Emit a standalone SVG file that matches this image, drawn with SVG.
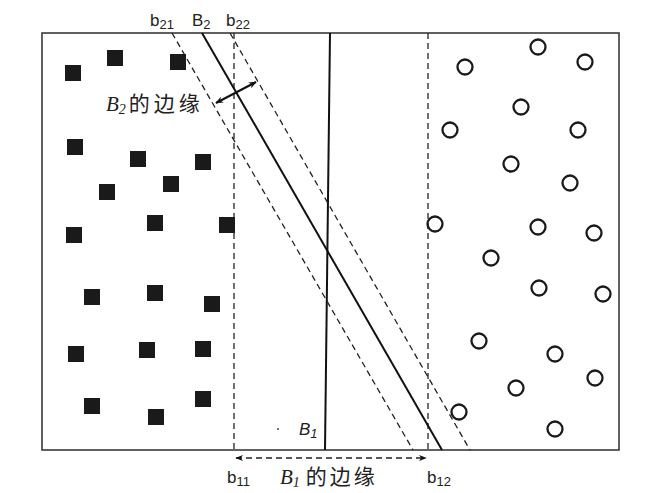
<svg xmlns="http://www.w3.org/2000/svg" width="658" height="493" viewBox="0 0 658 493">
<defs>
<style>
.frame{fill:none;stroke:#3a3a3a;stroke-width:1.6}
.solid{stroke:#111;stroke-width:2;fill:none}
.dash{stroke:#222;stroke-width:1.3;stroke-dasharray:6 4;fill:none}
.sq{fill:#1a1a1a}
.ci{fill:none;stroke:#1a1a1a;stroke-width:2.3}
.lab{font-family:"Liberation Sans",Arial,sans-serif;font-size:17px;fill:#222}
.sub{font-size:13px}
.cn{font-family:"Noto Sans CJK SC",sans-serif;fill:#222}
.it{font-family:"Liberation Serif",serif;font-style:italic}
</style>
<marker id="ah" viewBox="0 0 10 10" refX="9" refY="5" markerWidth="8" markerHeight="8" markerUnits="userSpaceOnUse" orient="auto-start-reverse">
<path d="M0,1 L10,5 L0,9 L3,5 Z" fill="#111"/>
</marker>
</defs>
<rect width="658" height="493" fill="#fff"/>
<g id="frame"><rect class="frame" x="42" y="33" width="577" height="417"/></g>
<g id="connectors">
<line class="dash" x1="234" y1="33" x2="234" y2="450"/>
<line class="dash" x1="428" y1="33" x2="428" y2="450"/>
<line class="solid" x1="330" y1="33" x2="325" y2="450"/>
<line class="dash" x1="172" y1="33" x2="413" y2="450"/>
<line class="solid" x1="202" y1="33" x2="442" y2="450"/>
<line class="dash" x1="230" y1="33" x2="470" y2="450"/>
<line class="solid" x1="216" y1="103" x2="256" y2="82" stroke-width="1.6" marker-start="url(#ah)" marker-end="url(#ah)"/>
<line class="dash" x1="236" y1="458" x2="426" y2="458" marker-start="url(#ah)" marker-end="url(#ah)"/>
</g>
<g id="squares">
<rect class="sq" x="65" y="65" width="16" height="16"/>
<rect class="sq" x="107" y="50" width="16" height="16"/>
<rect class="sq" x="170" y="54" width="16" height="16"/>
<rect class="sq" x="67" y="139" width="16" height="16"/>
<rect class="sq" x="130" y="151" width="16" height="16"/>
<rect class="sq" x="195" y="154" width="16" height="16"/>
<rect class="sq" x="163" y="176" width="16" height="16"/>
<rect class="sq" x="99" y="184" width="16" height="16"/>
<rect class="sq" x="147" y="215" width="16" height="16"/>
<rect class="sq" x="219" y="217" width="16" height="16"/>
<rect class="sq" x="66" y="227" width="16" height="16"/>
<rect class="sq" x="84" y="289" width="16" height="16"/>
<rect class="sq" x="147" y="285" width="16" height="16"/>
<rect class="sq" x="204" y="296" width="16" height="16"/>
<rect class="sq" x="68" y="346" width="16" height="16"/>
<rect class="sq" x="139" y="342" width="16" height="16"/>
<rect class="sq" x="195" y="341" width="16" height="16"/>
<rect class="sq" x="84" y="398" width="16" height="16"/>
<rect class="sq" x="148" y="409" width="16" height="16"/>
<rect class="sq" x="195" y="391" width="16" height="16"/>
</g>
<g id="circles">
<circle class="ci" cx="538" cy="47" r="7.5"/>
<circle class="ci" cx="465" cy="67" r="7.5"/>
<circle class="ci" cx="585" cy="62" r="7.5"/>
<circle class="ci" cx="521" cy="107" r="7.5"/>
<circle class="ci" cx="450" cy="130" r="7.5"/>
<circle class="ci" cx="578" cy="130" r="7.5"/>
<circle class="ci" cx="511" cy="164" r="7.5"/>
<circle class="ci" cx="570" cy="183" r="7.5"/>
<circle class="ci" cx="435" cy="224" r="7.5"/>
<circle class="ci" cx="538" cy="227" r="7.5"/>
<circle class="ci" cx="594" cy="233" r="7.5"/>
<circle class="ci" cx="491" cy="258" r="7.5"/>
<circle class="ci" cx="539" cy="288" r="7.5"/>
<circle class="ci" cx="603" cy="294" r="7.5"/>
<circle class="ci" cx="479" cy="341" r="7.5"/>
<circle class="ci" cx="555" cy="354" r="7.5"/>
<circle class="ci" cx="595" cy="378" r="7.5"/>
<circle class="ci" cx="516" cy="388" r="7.5"/>
<circle class="ci" cx="459" cy="412" r="7.5"/>
<circle class="ci" cx="555" cy="429" r="7.5"/>
</g>
<circle cx="278" cy="429" r="1" fill="#444"/>
<g id="labels">
<text class="lab" x="150" y="26">b<tspan class="sub" dy="3">21</tspan></text>
<text class="lab" x="192" y="26">B<tspan class="sub" dy="3">2</tspan></text>
<text class="lab" x="226" y="26">b<tspan class="sub" dy="3">22</tspan></text>
<text class="lab" x="299" y="435" font-style="italic">B<tspan class="sub" dy="3">1</tspan></text>
<text class="lab" x="227" y="483">b<tspan class="sub" dy="3">11</tspan></text>
<text class="lab" x="427" y="483">b<tspan class="sub" dy="3">12</tspan></text>
<text x="106" y="111" font-size="21"><tspan class="it" fill="#222">B</tspan><tspan class="it" font-size="14" dy="3" fill="#222">2</tspan><tspan class="cn" dy="-3" dx="3" letter-spacing="4">的边缘</tspan></text>
<text x="280" y="484" font-size="21"><tspan class="it" fill="#222">B</tspan><tspan class="it" font-size="14" dy="3" fill="#222">1</tspan><tspan class="cn" dy="-3" dx="6" letter-spacing="3">的边缘</tspan></text>
</g>
</svg>
